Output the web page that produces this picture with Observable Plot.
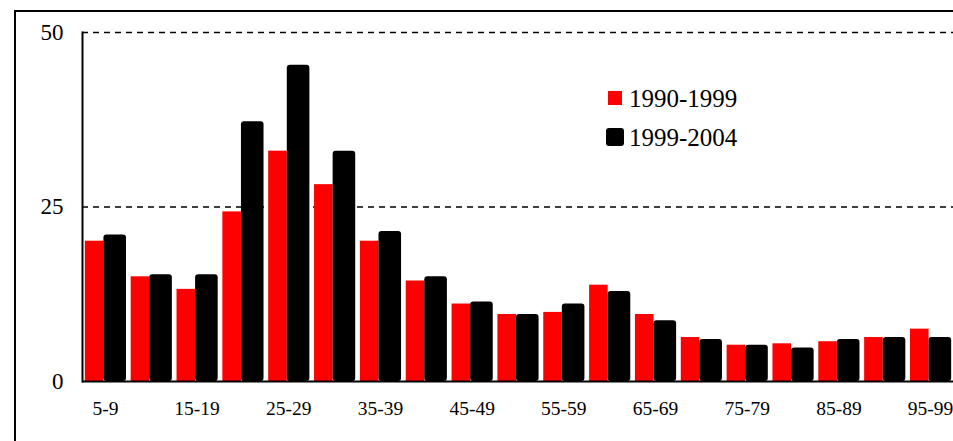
<!DOCTYPE html>
<html>
<head>
<meta charset="utf-8">
<script src="https://cdn.jsdelivr.net/npm/d3@7"></script>
<script src="https://cdn.jsdelivr.net/npm/@observablehq/plot@0.6"></script>
<style>
  html, body { margin: 0; padding: 0; background: #fff; overflow: hidden; }
  #wrap { position: relative; width: 953px; height: 441px; font-family: "Liberation Serif", "Times New Roman", serif; }
  #border { position: absolute; left: 14px; top: 10px; width: 2000px; height: 2000px; border-left: 2px solid #000; border-top: 2px solid #000; pointer-events: none; }
  #legend { position: absolute; left: 606px; top: 86px; font-size: 25px; color: #000; line-height: 1; }
  #legend .row { display: flex; align-items: center; height: 24px; }
  #legend .sw { display: inline-block; margin-right: 6px; }
</style>
</head>
<body>
<div id="wrap">
  <div id="chart"></div>
  <div id="border"></div>
  <div id="legend"></div>
</div>
<script>
const groups = ["5-9","10-14","15-19","20-24","25-29","30-34","35-39","40-44","45-49","50-54",
                "55-59","60-64","65-69","70-74","75-79","80-84","85-89","90-94","95-99"];
const seriesNames = ["1990-1999", "1999-2004"];
const values1990 = [20.1, 15.0, 13.2, 24.3, 33.0, 28.2, 20.1, 14.4, 11.1, 9.6,
                    9.9, 13.8, 9.6, 6.3, 5.2, 5.4, 5.7, 6.3, 7.5];
const values1999 = [21.0, 15.3, 15.3, 37.2, 45.3, 33.0, 21.5, 15.0, 11.4, 9.6,
                    11.1, 12.9, 8.7, 6.0, 5.2, 4.8, 6.0, 6.3, 6.3];
const xTickLabels = ["5-9","15-19","25-29","35-39","45-49","55-59","65-69","75-79","85-89","95-99"];
const yTicks = [0, 25, 50];
const seriesColors = ["#ff0000", "#000000"];

const data1990 = groups.map((g, i) => ({group: g, value: values1990[i]}));
const data1999 = groups.map((g, i) => ({group: g, value: values1999[i]}));

const W = 953, H = 441, mL = 82, mR = 0, mT = 32, mB = 60;
const pIn = 0.08, pOut = 0.04;
const step = (W - mL - mR) / (groups.length - pIn + 2 * pOut);
const bw = step * (1 - pIn);

const chart = Plot.plot({
  width: W, height: H,
  marginLeft: mL, marginRight: mR, marginTop: mT, marginBottom: mB,
  style: {fontFamily: "'Liberation Serif', 'Times New Roman', serif", color: "#000", background: "transparent"},
  x: {domain: groups, paddingInner: pIn, paddingOuter: pOut, round: false, axis: null},
  y: {domain: [0, 50], axis: null},
  marks: [
    Plot.ruleY(yTicks.filter(d => d > 0), {stroke: "#000", strokeWidth: 1.3, strokeDasharray: "6,5"}),
    Plot.barY(data1990, {x: "group", y: "value", fill: seriesColors[0], insetLeft: 1, insetRight: bw / 2 + 1.5}),
    Plot.barY(data1999, {x: "group", y: "value", fill: seriesColors[1], insetLeft: bw / 2 - 1.5, insetRight: 0, rx: 3}),
    Plot.ruleY([0], {stroke: "#000", strokeWidth: 2}),
    Plot.frame({anchor: "left", stroke: "#000", strokeWidth: 2}),
    Plot.axisX({ticks: xTickLabels, tickSize: 0, tickPadding: 20, fontSize: 19.5, label: null}),
    Plot.axisY({ticks: yTicks, tickSize: 0, tickPadding: 19, fontSize: 23, label: null})
  ]
});
document.getElementById("chart").appendChild(chart);

const legend = document.getElementById("legend");
seriesNames.forEach((name, i) => {
  const row = document.createElement("div");
  row.className = "row";
  row.style.marginBottom = i === 0 ? "15px" : "0";
  const sw = document.createElement("span");
  sw.className = "sw";
  const s = i === 0 ? 14 : 18;
  sw.style.width = s + "px";
  sw.style.height = s + "px";
  sw.style.background = seriesColors[i];
  sw.style.borderRadius = i === 0 ? "0" : "3px";
  sw.style.marginLeft = i === 0 ? "2px" : "0";
  sw.style.marginRight = i === 0 ? "7px" : "5px";
  row.appendChild(sw);
  const t = document.createElement("span");
  t.textContent = name;
  row.appendChild(t);
  legend.appendChild(row);
});
</script>
</body>
</html>
